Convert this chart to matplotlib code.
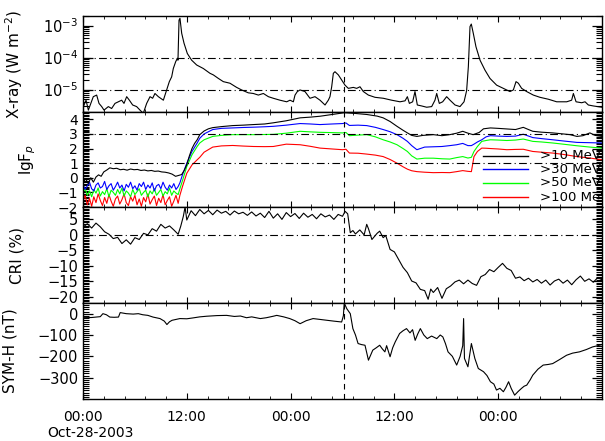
import numpy as np
import matplotlib
matplotlib.use("Agg")
import matplotlib.pyplot as plt
from matplotlib.ticker import MultipleLocator, FixedLocator, LogLocator, NullFormatter

# time axis: hours since 2003-10-28 00:00 UT
tick_hours = [0, 12, 24, 36, 48]
tick_labels = ["00:00", "12:00", "00:00", "12:00", "00:00"]
date_label = "Oct-28-2003"
shock_hour = 30.2

# GOES X-ray flux, log10(W m^-2)
xray_t = [0.04, 0.35, 0.62, 1.19, 1.58, 1.85, 2.16, 2.43, 2.93, 3.31, 3.70, 4.08, 4.47,
          4.74, 5.05, 5.36, 5.74, 6.20, 6.59, 6.97, 7.36, 7.75, 8.05, 8.32, 8.71, 9.29,
          9.67, 9.98, 10.25, 10.44, 10.71, 10.91, 10.98, 11.10, 11.21, 11.41, 11.68,
          12.06, 12.56, 13.14, 13.91, 14.68, 15.07, 15.65, 16.22, 16.99, 17.76, 18.34,
          19.11, 19.69, 20.27, 20.85, 21.43, 22.00, 22.77, 23.55, 23.93, 24.32, 24.51,
          24.78, 25.09, 25.66, 26.24, 26.82, 27.40, 27.98, 28.36, 28.55, 28.75, 28.94,
          29.13, 29.52, 29.90, 30.29, 30.67, 31.25, 31.64, 32.02, 32.41, 32.99, 33.76,
          34.72, 35.68, 36.65, 37.23, 37.50, 37.73, 38.11, 38.38, 38.65, 39.15, 39.73,
          40.31, 40.69, 40.89, 41.19, 41.58, 42.04, 42.43, 43.01, 43.58, 44.05, 44.35,
          44.55, 44.74, 44.89, 45.12, 45.43, 45.90, 46.47, 47.05, 47.82, 48.59, 49.36,
          49.75, 50.06, 50.33, 50.71, 51.29, 52.06, 52.83, 53.80, 54.76, 55.92, 56.49,
          56.69, 57.00, 57.65, 58.04, 58.42, 59.00, 59.96]
xray_log = [-5.53, -5.33, -5.64, -5.22, -5.17, -5.43, -5.53, -5.64, -5.53, -5.59, -5.43,
            -5.38, -5.33, -5.43, -5.22, -5.33, -5.48, -5.53, -5.64, -5.74, -5.43, -5.22,
            -5.27, -5.12, -5.22, -5.33, -5.01, -4.75, -4.60, -4.34, -4.13, -4.02, -4.08,
            -2.83, -2.77, -3.24, -3.55, -3.87, -4.08, -4.23, -4.34, -4.49, -4.54, -4.65,
            -4.75, -4.80, -4.93, -5.01, -5.10, -5.12, -5.17, -5.12, -5.22, -5.27, -5.33,
            -5.38, -5.33, -5.38, -5.17, -5.06, -5.01, -5.06, -5.27, -5.22, -5.33, -5.48,
            -5.33, -5.22, -4.91, -4.49, -4.44, -4.54, -4.70, -4.86, -4.96, -4.93, -4.96,
            -4.91, -5.06, -5.17, -5.24, -5.27, -5.33, -5.38, -5.35, -5.22, -5.43, -5.38,
            -5.06, -5.48, -5.51, -5.55, -5.53, -5.33, -5.12, -5.43, -5.38, -5.22, -5.33,
            -5.48, -5.53, -5.38, -5.03, -4.28, -3.03, -2.95, -3.24, -3.66, -4.08, -4.39,
            -4.65, -4.86, -4.96, -5.06, -5.01, -4.75, -4.80, -4.96, -5.06, -5.17, -5.24,
            -5.30, -5.38, -5.38, -5.33, -5.12, -5.38, -5.41, -5.38, -5.48, -5.51, -5.55]

# proton flux, lg(pfu)
t_early = [0.0, 0.25, 0.5, 0.75, 1.0, 1.25, 1.5, 1.75, 2.0, 2.25, 2.5, 2.75, 3.0, 3.25,
           3.5, 3.75, 4.0, 4.25, 4.5, 4.75, 5.0, 5.25, 5.5, 5.75, 6.0, 6.25, 6.5, 6.75,
           7.0, 7.25, 7.5, 7.75, 8.0, 8.25, 8.5, 8.75, 9.0, 9.25, 9.5, 9.75, 10.0, 10.25,
           10.5, 10.75, 11.0]
p30_early = [-0.45, -0.8, -0.55, -0.3, -0.75, -0.9, -0.5, -0.35, -0.7, -0.6, -0.25, -0.8,
             -0.55, -0.4, -0.85, -0.6, -0.3, -0.7, -0.5, -0.9, -0.45, -0.65, -0.3, -0.75,
             -0.55, -0.85, -0.4, -0.6, -0.3, -0.8, -0.5, -0.7, -0.35, -0.9, -0.55, -0.45,
             -0.75, -0.3, -0.65, -0.85, -0.5, -0.7, -0.4, -0.8, -0.6]
p50_early = [-1.0, -0.75, -1.2, -0.9, -1.3, -0.8, -1.05, -0.7, -1.25, -0.95, -1.15, -0.75,
             -1.3, -0.85, -1.0, -1.2, -0.8, -1.1, -0.7, -1.25, -0.9, -1.05, -1.3, -0.8,
             -1.15, -0.95, -0.75, -1.2, -1.0, -0.85, -1.3, -0.9, -1.1, -0.75, -1.2, -1.0,
             -0.8, -1.25, -0.95, -1.1, -0.7, -1.2, -0.9, -1.05, -1.15]
p100_early = [-1.6, -1.2, -1.85, -1.4, -1.95, -1.3, -1.7, -1.1, -1.55, -1.9, -1.35, -1.75,
              -1.15, -1.6, -1.95, -1.45, -1.25, -1.8, -1.5, -1.1, -1.7, -1.9, -1.3, -1.6,
              -1.2, -1.85, -1.45, -1.95, -1.35, -1.65, -1.1, -1.8, -1.5, -1.25, -1.9, -1.4,
              -1.7, -1.15, -1.85, -1.55, -1.3, -1.95, -1.6, -1.2, -1.75]

p10_t = [0.0, 0.3, 0.6, 0.9, 1.2, 1.5, 1.8, 2.1, 2.4, 2.8, 3.1, 3.5, 3.9, 4.3, 4.7, 5.1,
         5.5, 5.9, 6.3, 6.7, 7.1, 7.5, 7.9, 8.3, 8.7, 9.1, 9.5, 9.9, 10.3, 10.7, 11.0,
         11.4, 11.7, 12.0, 12.3, 12.6, 12.9, 13.2, 13.5, 14.0, 14.5, 15.0, 16.0, 17.3,
         18.5, 19.7, 21.0, 22.0, 23.5, 25.1, 26.3, 27.4, 28.8, 30.2, 31.5, 32.8, 34.0,
         34.7, 35.5, 36.3, 37.0, 37.5, 38.0, 38.6, 39.3, 40.5, 41.5, 42.4, 43.2, 43.9,
         44.5, 45.1, 45.8, 46.3, 47.1, 48.0, 49.0, 50.0, 50.9, 51.5, 52.0, 53.0, 54.3,
         55.5, 56.3, 57.1, 57.8, 58.6, 59.2, 60.0]
p10 = [-0.35, -0.05, -0.4, 0.0, -0.3, 0.05, 0.2, 0.1, 0.4, 0.55, 0.68, 0.62, 0.65, 0.55,
       0.58, 0.52, 0.6, 0.55, 0.57, 0.5, 0.53, 0.47, 0.5, 0.44, 0.46, 0.4, 0.38, 0.33,
       0.25, 0.1, 0.15, 0.22, 0.5, 0.9, 1.5, 2.0, 2.35, 2.6, 2.95, 3.2, 3.35, 3.43, 3.5,
       3.57, 3.6, 3.64, 3.68, 3.76, 3.9, 4.1, 4.15, 4.21, 4.33, 4.45, 4.4, 4.33, 4.22,
       4.1, 3.85, 3.52, 3.25, 3.07, 2.9, 2.83, 2.9, 2.95, 2.88, 2.95, 3.05, 3.18, 3.05,
       2.95, 3.1, 3.35, 3.41, 3.38, 3.34, 3.3, 3.45, 3.3, 3.18, 3.12, 3.07, 3.0, 2.95,
       2.83, 2.88, 3.07, 2.9, 2.83]

p_late_t = [11.2, 11.5, 12.0, 12.6, 13.2, 13.5, 14.0, 15.0, 16.0, 17.3, 18.5, 19.7, 21.0,
            22.0, 23.5, 25.1, 26.3, 27.4, 28.8, 30.0, 30.4, 30.8, 31.8, 32.8, 33.8, 34.7,
            35.5, 36.3, 37.0, 37.5, 38.0, 38.6, 39.5, 40.5, 41.5, 42.4, 43.2, 43.9, 44.5,
            44.9, 45.2, 45.6, 46.1, 46.6, 47.1, 48.0, 49.0, 50.0, 50.9, 52.0, 53.0, 54.3,
            55.5, 57.1, 58.6, 60.0]
p30_late = [-0.35, 0.2, 1.0, 1.8, 2.38, 2.7, 3.0, 3.3, 3.38, 3.41, 3.44, 3.46, 3.49, 3.52,
            3.6, 3.71, 3.68, 3.64, 3.68, 3.71, 3.75, 3.58, 3.6, 3.57, 3.45, 3.3, 3.15, 2.95,
            2.7, 2.49, 2.2, 1.92, 2.1, 2.12, 2.14, 2.2, 2.26, 2.35, 2.2, 2.2, 2.3, 2.45, 2.6,
            2.8, 2.88, 2.85, 2.83, 2.85, 2.98, 2.75, 2.68, 2.6, 2.52, 2.42, 2.4, 2.38]
p50_late = [-0.75, -0.2, 0.77, 1.57, 2.14, 2.38, 2.6, 2.83, 2.9, 2.95, 2.95, 2.95, 2.96,
            2.97, 3.05, 3.18, 3.14, 3.11, 3.09, 3.07, 3.1, 2.88, 2.92, 2.95, 2.8, 2.6, 2.45,
            2.26, 2.0, 1.8, 1.5, 1.28, 1.34, 1.34, 1.3, 1.28, 1.38, 1.45, 1.35, 1.4, 1.8,
            2.14, 2.49, 2.55, 2.6, 2.58, 2.55, 2.58, 2.65, 2.49, 2.45, 2.38, 2.3, 2.19, 2.1,
            2.03]
p100_late = [-1.2, -0.6, 0.31, 0.88, 1.23, 1.4, 1.75, 2.1, 2.18, 2.21, 2.17, 2.14, 2.13,
             2.14, 2.3, 2.26, 2.15, 2.03, 1.97, 1.92, 1.95, 1.69, 1.68, 1.62, 1.55, 1.45,
             1.25, 1.0, 0.75, 0.59, 0.48, 0.42, 0.38, 0.35, 0.36, 0.35, 0.42, 0.49, 0.44,
             0.42, 1.45, 1.8, 2.03, 2.02, 2.0, 1.97, 1.92, 1.94, 1.95, 1.8, 1.75, 1.69, 1.6,
             1.45, 1.35, 1.23]

# cosmic ray intensity variation, %
cri_t = [0.0, 0.5, 1.0, 1.5, 2.0, 2.5, 3.0, 3.5, 4.0, 4.5, 5.0, 5.5, 6.0, 6.5, 7.0, 7.5,
         8.0, 8.5, 9.0, 9.5, 10.0, 10.5, 11.0, 11.3, 11.6, 11.8, 12.0, 12.5, 13.0, 13.5,
         14.0, 14.5, 15.0, 15.5, 16.0, 16.5, 17.0, 17.5, 18.0, 18.5, 19.0, 19.5, 20.0,
         20.5, 21.0, 21.5, 22.0, 22.5, 23.0, 23.5, 24.0, 24.5, 25.0, 25.5, 26.0, 26.5,
         27.0, 27.5, 28.0, 28.5, 29.0, 29.5, 30.0, 30.3, 30.6, 30.9, 31.2, 31.5, 32.0,
         32.5, 32.8, 33.0, 33.4, 34.0, 34.3, 34.7, 35.0, 35.5, 36.0, 36.5, 37.0, 37.5,
         38.0, 38.5, 39.0, 39.5, 39.9, 40.2, 40.5, 41.0, 41.5, 42.0, 42.5, 43.0, 43.5,
         44.0, 44.5, 45.0, 45.5, 46.0, 46.5, 47.0, 47.5, 48.0, 48.5, 49.0, 49.5, 50.0,
         50.5, 51.0, 51.5, 52.0, 52.5, 53.0, 53.5, 54.0, 54.5, 55.0, 55.5, 56.0, 56.5,
         57.0, 57.5, 58.0, 58.5, 59.0, 59.5, 60.0]
cri = [2.5, 3.6, 2.2, 3.8, 2.6, 1.0, 0.2, -1.2, -0.8, -2.8, -1.6, -3.0, -0.9, -1.5, 0.5,
       0.0, 2.0, 1.2, 3.4, 2.2, 2.9, 1.6, 0.2, 2.8, 6.0, 9.0, 4.8, 7.8, 6.2, 8.2, 6.8, 7.9,
       6.5, 8.0, 7.0, 7.6, 6.4, 7.7, 6.8, 7.3, 6.3, 7.4, 6.1, 7.0, 5.6, 7.6, 5.4, 6.8, 5.0,
       7.2, 5.9, 6.9, 5.3, 7.0, 5.7, 6.6, 5.2, 6.8, 5.8, 6.4, 5.0, 6.6, 6.0, 7.6, 6.8, 0.7,
       1.4, 0.3, 1.6, 0.0, 3.4, 2.0, -1.5, 0.5, 1.2, -0.9, -0.2, -4.7, -5.5, -8.0, -10.5,
       -12.2, -14.9, -15.5, -17.6, -18.0, -20.8, -17.5, -18.6, -17.0, -20.5, -17.4, -16.5,
       -15.2, -14.6, -15.8, -14.6, -15.7, -16.3, -13.5, -12.8, -11.2, -11.9, -10.5, -9.2,
       -10.8, -11.5, -14.0, -13.6, -14.8, -14.0, -15.2, -14.4, -15.6, -14.6, -16.2, -14.9,
       -14.3, -15.6, -14.6, -16.1, -14.5, -13.3, -15.0, -14.2, -15.3, -13.8, -14.5]

# SYM-H index, nT
symh_t = [0.0, 1.0, 2.0, 2.3, 2.7, 3.1, 3.6, 4.1, 4.3, 5.0, 5.8, 6.4, 6.9, 7.5, 8.1, 8.9,
          9.4, 9.7, 10.0, 10.3, 11.2, 12.0, 12.7, 13.5, 14.3, 15.5, 16.6, 17.5, 18.2, 18.9,
          19.5, 20.5, 21.2, 22.0, 22.4, 23.2, 23.9, 24.5, 25.1, 25.8, 26.6, 27.4, 28.2,
          29.0, 29.9, 30.1, 30.2, 30.5, 30.9, 31.2, 31.5, 31.8, 32.2, 32.6, 33.0, 33.5,
          33.9, 34.3, 34.6, 34.9, 35.1, 35.5, 35.8, 36.1, 36.6, 37.0, 37.4, 37.8, 38.1,
          38.4, 38.7, 39.0, 39.4, 39.8, 40.3, 40.9, 41.3, 41.6, 41.9, 42.2, 42.7, 43.2,
          43.6, 43.9, 44.0, 44.1, 44.5, 44.9, 45.3, 45.7, 46.3, 46.7, 47.1, 47.5, 47.8,
          48.2, 48.6, 48.9, 49.2, 49.5, 49.9, 50.3, 50.7, 51.0, 51.3, 51.7, 52.0, 52.6,
          53.2, 53.8, 54.3, 55.1, 55.9, 56.6, 57.4, 58.2, 58.9, 59.5, 60.0]
symh = [-19, -18, -14, 0, -5, -16, -17, -16, 5, 0, -2, 0, -5, -8, -16, -23, -35, -51, -38,
        -31, -23, -24, -20, -15, -12, -9, -8, -13, -11, -19, -15, -23, -19, -12, -8, -15,
        -23, -33, -47, -33, -23, -27, -31, -35, -39, -10, 50, 23, 0, -70, -100, -140, -145,
        -148, -218, -171, -160, -148, -165, -179, -150, -202, -160, -132, -93, -80, -70,
        -90, -75, -125, -95, -70, -100, -117, -105, -117, -100, -109, -140, -179, -200,
        -241, -200, -150, -23, -210, -249, -140, -210, -257, -272, -290, -319, -330, -358,
        -350, -366, -345, -319, -350, -382, -365, -350, -340, -335, -310, -288, -260, -241,
        -238, -234, -215, -195, -185, -179, -168, -156, -150, -145]

legend_labels = [">10 MeV", ">30 MeV", ">50 MeV", ">100 MeV"]
legend_colors = ["black", "blue", "#00ff00", "red"]

plt.rcParams["font.family"] = "DejaVu Sans"
fig = plt.figure(figsize=(6.05, 4.41), dpi=100)

left, width = 83 / 605, 519 / 605
edges = [16, 112, 207, 303, 399]
axes = []
for i in range(4):
    b = 1 - edges[i + 1] / 441
    h = (edges[i + 1] - edges[i]) / 441
    axes.append(fig.add_axes([left, b, width, h]))
ax1, ax2, ax3, ax4 = axes

lw = 0.8
dashdot = (0, (7, 3, 1, 3))

# X-ray
ax1.plot(xray_t, 10 ** np.array(xray_log), color="black", lw=lw)
ax1.set_yscale("log")
ax1.set_ylim(2e-6, 2e-3)
ax1.yaxis.set_major_locator(FixedLocator([1e-5, 1e-4, 1e-3]))
ax1.yaxis.set_minor_locator(LogLocator(base=10, subs=np.arange(2, 10)))
ax1.yaxis.set_minor_formatter(NullFormatter())
ax1.set_yticklabels(["10$^{-5}$", "10$^{-4}$", "10$^{-3}$"])
for lev in [1e-4, 1e-5]:
    ax1.axhline(lev, color="black", lw=lw, ls=dashdot)
ax1.set_ylabel("X-ray (W m$^{-2}$)", fontsize=11)

# protons
ax2.plot(t_early + p_late_t, p100_early + p100_late, color="red", lw=lw)
ax2.plot(t_early + p_late_t, p50_early + p50_late, color="#00ff00", lw=lw)
ax2.plot(t_early + p_late_t, p30_early + p30_late, color="blue", lw=lw)
ax2.plot(p10_t, p10, color="black", lw=lw)
ax2.set_ylim(-2, 4.5)
ax2.set_yticks([-2, -1, 0, 1, 2, 3, 4])
ax2.yaxis.set_minor_locator(MultipleLocator(0.1))
for lev in [3, 1]:
    ax2.axhline(lev, color="black", lw=lw, ls=dashdot)
ax2.set_ylabel("lgF$_p$", fontsize=11)
rows = [0.537, 0.40, 0.253, 0.105]
for lab, col, yy in zip(legend_labels, legend_colors, rows):
    ax2.plot([0.771, 0.857], [yy, yy], color=col, lw=1.0, transform=ax2.transAxes)
    ax2.text(0.880, yy, lab, transform=ax2.transAxes, fontsize=9.5,
             va="center", ha="left", clip_on=True)

# CRI
ax3.plot(cri_t, cri, color="black", lw=lw)
ax3.set_ylim(-22, 9)
ax3.set_yticks([-20, -15, -10, -5, 0, 5])
ax3.yaxis.set_minor_locator(MultipleLocator(0.5))
ax3.axhline(0, color="black", lw=lw, ls=dashdot)
ax3.set_ylabel("CRI (%)", fontsize=11)

# SYM-H
ax4.plot(symh_t, symh, color="black", lw=lw)
ax4.set_ylim(-400, 50)
ax4.set_yticks([-300, -200, -100, 0])
ax4.yaxis.set_minor_locator(MultipleLocator(10))
ax4.set_ylabel("SYM-H (nT)", fontsize=11)

label_x = [-0.112, -0.087, -0.112, -0.127]
for ax, lx in zip(axes, label_x):
    ax.set_xlim(0, 60)
    ax.set_xticks(tick_hours)
    ax.xaxis.set_minor_locator(MultipleLocator(2.4))
    ax.tick_params(axis="both", which="both", direction="in", top=True, right=True,
                   labelsize=10.5)
    ax.tick_params(axis="y", which="major", length=7, width=0.9)
    ax.tick_params(axis="y", which="minor", length=4, width=0.8)
    ax.tick_params(axis="x", which="major", length=4)
    ax.tick_params(axis="x", which="minor", length=2.5)
    ax.axvline(shock_hour, color="black", lw=lw, ls=(0, (5, 4)))
    ax.yaxis.set_label_coords(lx, 0.5)
    for s in ax.spines.values():
        s.set_linewidth(1.0)
    if ax is not ax4:
        ax.set_xticklabels([])

ax2.tick_params(axis="y", labelsize=10)

ax4.set_xticklabels(tick_labels)
ax4.tick_params(axis="x", which="major", pad=8, labelsize=10)
fig.text(90 / 605, 1 - 433 / 441, date_label, ha="center", va="center", fontsize=10)

fig.savefig("out.png", dpi=100)
